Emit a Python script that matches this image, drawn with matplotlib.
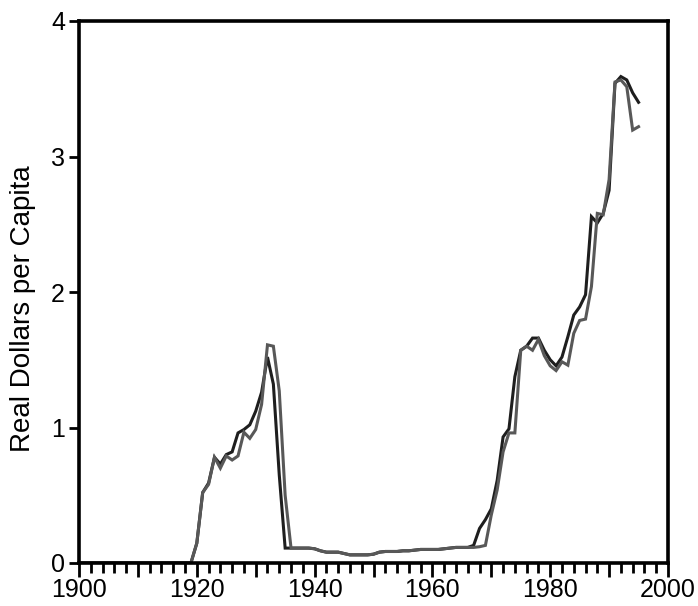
import matplotlib
matplotlib.use("Agg")
import matplotlib.pyplot as plt
from matplotlib.ticker import MultipleLocator, FuncFormatter
import numpy as np

plt.rcParams['font.family'] = ['Liberation Sans', 'DejaVu Sans']

# years 1900..1995
years = list(range(1900, 1996))

# flat stretch shared by both series, 1936..1966
flat_1936_1966 = [0.11, 0.11, 0.11, 0.11, 0.105, 0.09, 0.08, 0.08, 0.08, 0.07,
                  0.06, 0.06, 0.06, 0.06, 0.065, 0.08, 0.085, 0.085, 0.085, 0.09,
                  0.09, 0.095, 0.10, 0.10, 0.10, 0.10, 0.105, 0.11, 0.115, 0.115,
                  0.115]

# dark series
dark_1900_1935 = [0.0] * 19 + [0.0, 0.146, 0.52, 0.59, 0.78, 0.73, 0.80, 0.82,
                               0.96, 0.985, 1.02, 1.12, 1.26, 1.52, 1.32, 0.65,
                               0.11]
dark_1967_1995 = [0.13, 0.255, 0.32, 0.40, 0.61, 0.93, 0.99, 1.375, 1.57, 1.60,
                  1.66, 1.66, 1.57, 1.50, 1.455, 1.52, 1.67, 1.83, 1.89, 1.98,
                  2.556, 2.51, 2.58, 2.75, 3.54, 3.59, 3.565, 3.47, 3.40]
dark = dark_1900_1935 + flat_1936_1966 + dark_1967_1995

# gray series
gray_1900_1935 = [0.0] * 19 + [0.0, 0.146, 0.52, 0.58, 0.78, 0.70, 0.79, 0.76,
                               0.79, 0.965, 0.92, 0.985, 1.17, 1.61, 1.60, 1.27,
                               0.50]
gray_1967_1995 = [0.115, 0.12, 0.13, 0.355, 0.54, 0.82, 0.96, 0.96, 1.57, 1.60,
                  1.57, 1.65, 1.53, 1.455, 1.42, 1.485, 1.46, 1.695, 1.79, 1.80,
                  2.04, 2.58, 2.57, 2.83, 3.55, 3.565, 3.515, 3.195, 3.22]
gray = gray_1900_1935 + flat_1936_1966 + gray_1967_1995

fig = plt.figure(figsize=(6.98, 6.06), dpi=100)
ax = fig.add_axes([79 / 698, 43 / 606, 589 / 698, 542 / 606])

ax.plot(years, dark, color="#1e1e1e", lw=2.2, solid_joinstyle="miter")
ax.plot(years, gray, color="#585858", lw=2.2, solid_joinstyle="miter")

ax.set_xlim(1900, 2000)
ax.set_ylim(0, 4)

ax.xaxis.set_major_locator(MultipleLocator(10))
ax.xaxis.set_minor_locator(MultipleLocator(2))
ax.xaxis.set_major_formatter(FuncFormatter(lambda v, p: f"{int(v)}" if int(v) % 20 == 0 else ""))
ax.yaxis.set_major_locator(MultipleLocator(1))

ax.tick_params(axis="x", which="major", direction="out", length=10, width=2,
               labelsize=18, pad=1)
ax.tick_params(axis="x", which="minor", direction="out", length=7, width=2)
ax.tick_params(axis="y", which="major", direction="out", length=7, width=2,
               labelsize=18, pad=3)

for s in ax.spines.values():
    s.set_linewidth(2.6)
    s.set_color("black")

ax.set_ylabel("Real Dollars per Capita", fontsize=20)
ax.yaxis.set_label_coords(-0.073, 0.47)

fig.savefig("out.png", dpi=100)
